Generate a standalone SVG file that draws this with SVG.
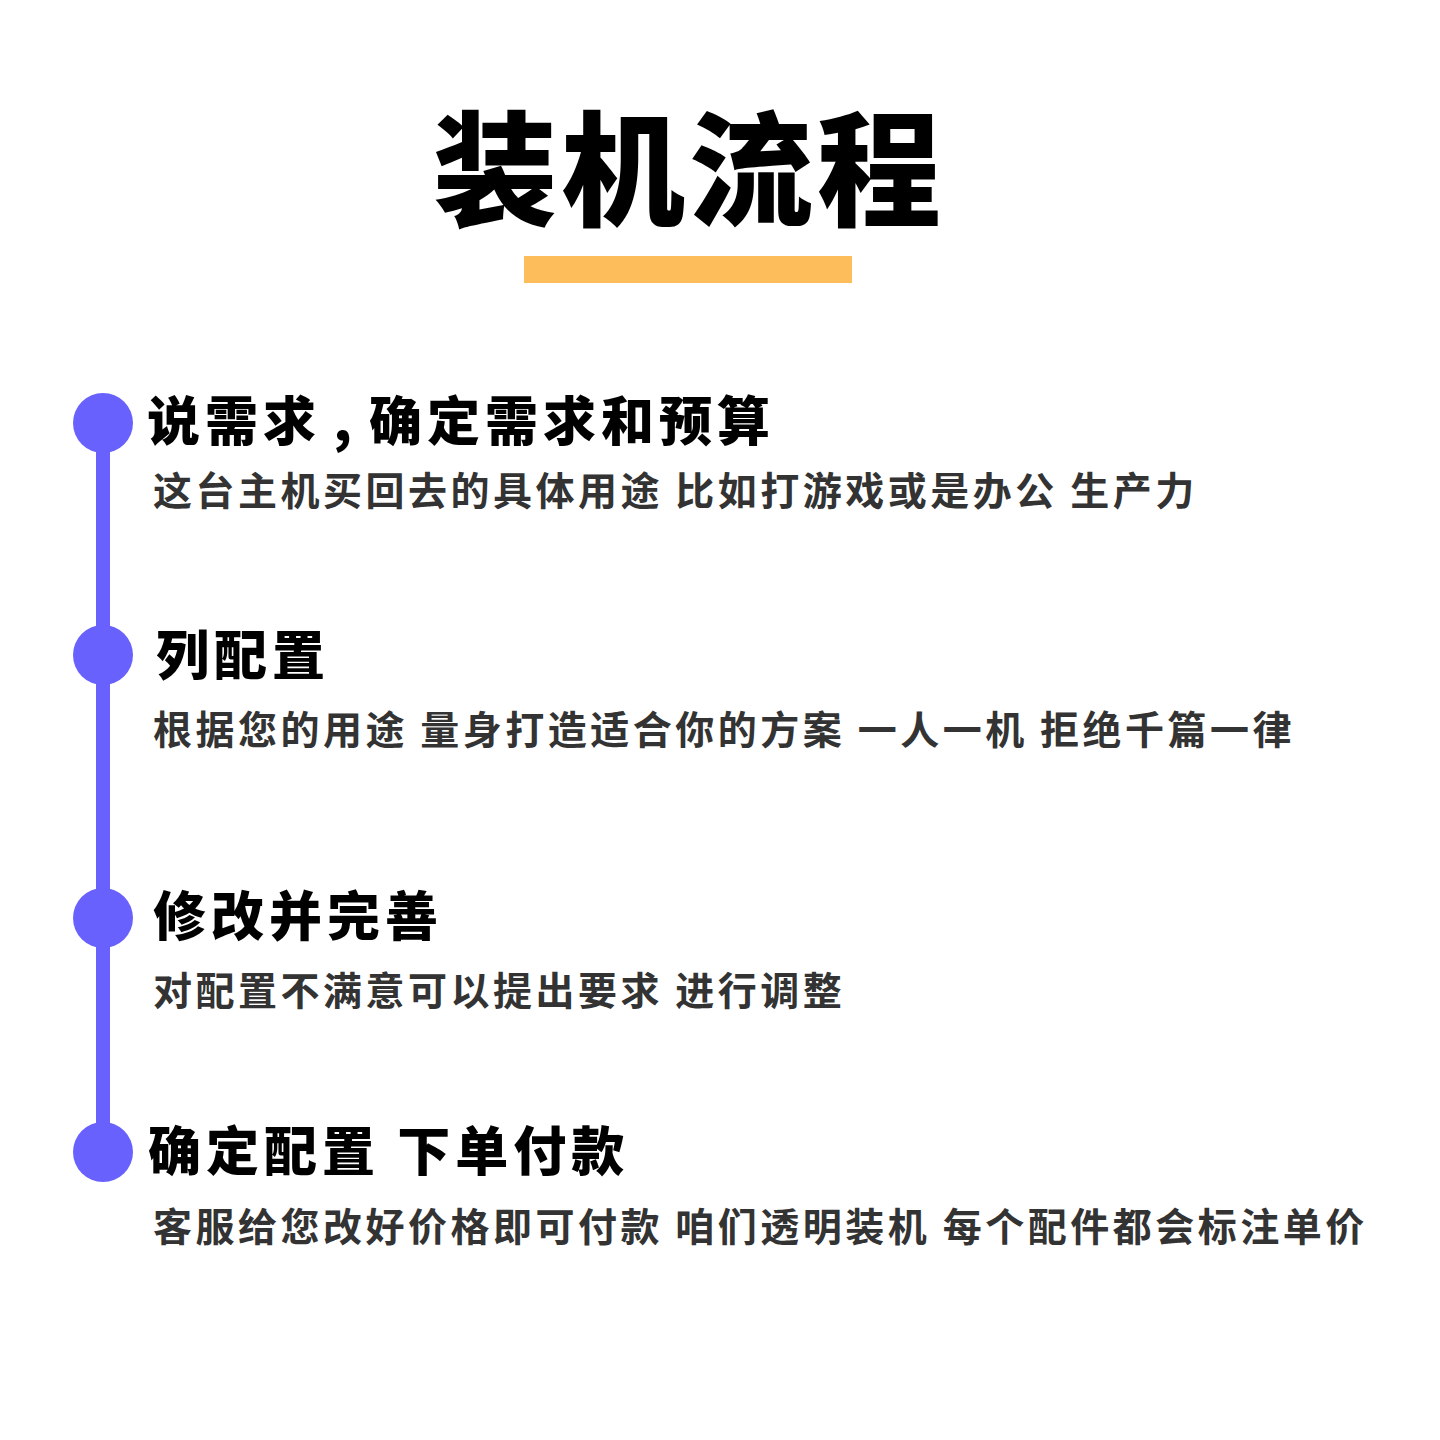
<svg xmlns="http://www.w3.org/2000/svg" width="1440" height="1440" viewBox="0 0 1440 1440">
<style>
.title{font-family:"Noto Sans CJK SC","Noto Sans",sans-serif;font-weight:900;font-size:124px;fill:#000;letter-spacing:4px}
.head{font-family:"Noto Sans CJK SC","Noto Sans",sans-serif;font-weight:900;font-size:53px;fill:#000;letter-spacing:5px}
.sub{font-family:"Noto Sans CJK SC","Noto Sans",sans-serif;font-weight:700;font-size:39px;fill:#333;letter-spacing:3.5px}
.dot{fill:#6861FE}
</style>
<rect width="1440" height="1440" fill="#fff"/>
<g id="header">
<text class="title" x="689" y="216" text-anchor="middle">装机流程</text>
<rect x="524" y="256" width="328" height="27" fill="#FDBD5A"/>
</g>
<g id="connectors">
<rect x="96" y="423" width="14" height="729" fill="#6861FE"/>
</g>
<g id="step1">
<circle class="dot" cx="103" cy="423" r="30"/>
<text class="head" x="147" y="441" xml:space="preserve" word-spacing="-5">说需求 , 确定需求和预算</text>
<text class="sub" x="153" y="505">这台主机买回去的具体用途 比如打游戏或是办公 生产力</text>
</g>
<g id="step2">
<circle class="dot" cx="103" cy="655" r="30"/>
<text class="head" x="156" y="675">列配置</text>
<text class="sub" x="153" y="744">根据您的用途 量身打造适合你的方案 一人一机 拒绝千篇一律</text>
</g>
<g id="step3">
<circle class="dot" cx="103" cy="918" r="30"/>
<text class="head" x="153" y="936">修改并完善</text>
<text class="sub" x="153" y="1005">对配置不满意可以提出要求 进行调整</text>
</g>
<g id="step4">
<circle class="dot" cx="103" cy="1152" r="30"/>
<text class="head" x="148" y="1171">确定配置 下单付款</text>
<text class="sub" x="153" y="1241">客服给您改好价格即可付款 咱们透明装机 每个配件都会标注单价</text>
</g>
</svg>
